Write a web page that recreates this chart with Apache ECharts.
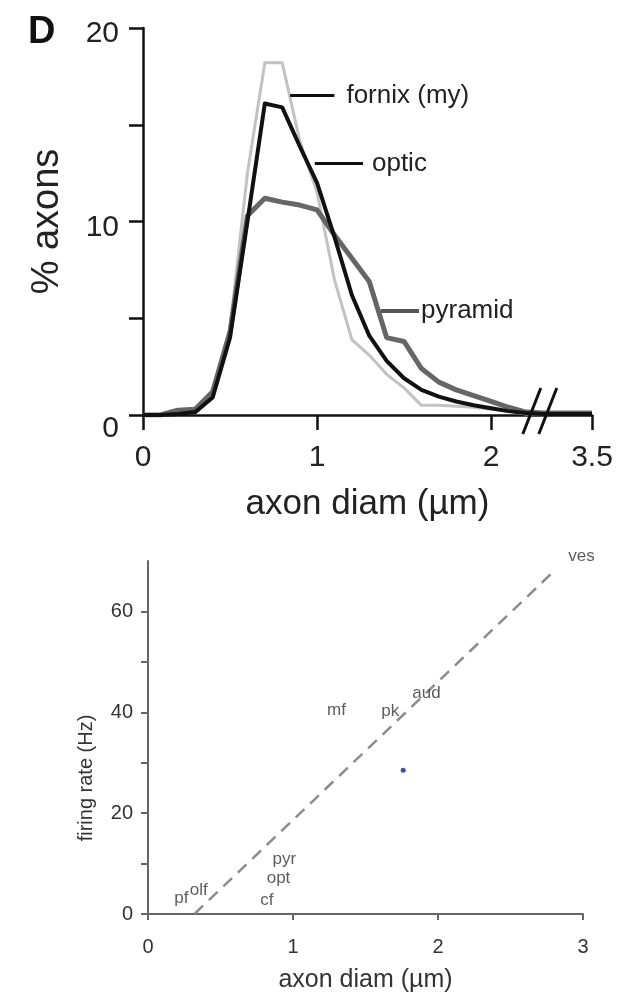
<!DOCTYPE html>
<html><head><meta charset="utf-8">
<script src="https://cdn.jsdelivr.net/npm/echarts@6/dist/echarts.min.js"></script>
<style>html,body{margin:0;padding:0;background:#fff}#c{width:628px;height:994px}</style>
</head><body><div id="c"></div>
<script>
// ---- Panel D (top): axon diameter distributions ----
const diamBins = [0,0.1,0.2,0.3,0.4,0.5,0.6,0.7,0.8,0.9,1.0,1.1,1.2,1.3,1.4,1.5,1.6,1.7,1.8,1.9,2.0,2.1,2.2,2.3,3.5];
const fornix   = [0,0,0.2,0.3,1.2,4.5,12.5,18.2,18.2,14.2,11.5,7.0,3.9,3.1,2.1,1.4,0.5,0.5,0.45,0.4,0.3,0.2,0.05,0.05,0.05];
const optic    = [0,0,0.05,0.15,0.9,4.0,10.0,16.1,15.9,13.9,12.0,9.2,6.2,4.1,2.8,1.9,1.3,0.95,0.7,0.5,0.35,0.2,0.1,0.05,0.05];
const pyramid  = [0,0,0.25,0.3,1.2,4.3,10.3,11.2,11.0,10.85,10.6,9.3,8.1,6.9,4.0,3.8,2.4,1.7,1.3,1.0,0.7,0.4,0.15,0.1,0.1];
const seriesNames = ['fornix (my)','optic','pyramid'];
const xTickValues = [0,1,2,3.5];
const xTickLabels = ['0','1','2','3.5'];
const yTickValues = [0,5,10,15,20];
const yLabelValues = [0,10,20];
// pointer lines for the curve names (data units)
const pointerFrom = [[0.845,16.5],[0.987,13.0],[1.367,5.4]];
const pointerTo   = [[1.10,16.5],[1.264,13.0],[1.586,5.4]];

// ---- bottom panel: firing rate vs axon diameter ----
const cellTypes = ['pf','olf','cf','opt','pyr','mf','pk','aud','ves'];
const cellDiam  = [0.23,0.35,0.82,0.90,0.94,1.30,1.67,1.92,2.99];
const cellRate  = [3.1,4.7,2.7,7.0,10.9,40.4,40.2,43.7,71];
const fitDiam = [0.32, 2.8];
const fitRate = [0, 68];
const dotDiam = [1.76];
const dotRate = [28.5];
const bxTicks = [0,1,2,3];
const byTicks = [0,10,20,30,40,50,60];
const byLabels = [0,20,40,60];

// broken x axis: beyond the break the scale is compressed
const AXIS_BREAK = 2.3, TAIL_COMPRESS = 0.2333;
const pos = x => x <= AXIS_BREAK ? x : AXIS_BREAK + (x - AXIS_BREAK) * TAIL_COMPRESS;

const FONT = 'Liberation Sans, Arial, sans-serif';
const chart = echarts.init(document.getElementById('c'));

const colors = ['#c2c2c2','#111111','#666666'];
const widths = [3,4,5];
const zs = [2,4,3];
const ptrColors = ['#111','#111','#555'];
const ptrWidths = [3,3,4];
const ptrDist = [12,9,2];
const curveData = [fornix, optic, pyramid];

const topSeries = curveData.map((vals, i) => ({
  name: seriesNames[i], type: 'line', xAxisIndex: 0, yAxisIndex: 0,
  data: diamBins.map((d, k) => [pos(d), vals[k]]),
  symbol: 'none', z: zs[i],
  lineStyle: {color: colors[i], width: widths[i], join: 'round'},
  markLine: {
    silent: true, symbol: ['none','none'], animation: false,
    lineStyle: {color: ptrColors[i], width: ptrWidths[i], type: 'solid'},
    label: {show: true, position: 'end', formatter: seriesNames[i], fontFamily: FONT,
            fontSize: 26, color: '#222', distance: ptrDist[i]},
    emphasis: {disabled: true},
    data: [[{coord: [pos(pointerFrom[i][0]), pointerFrom[i][1]]},
            {coord: [pos(pointerTo[i][0]), pointerTo[i][1]]}]]
  }
}));

const xTickPos = xTickValues.map(pos);
const xLabelFor = v => {
  const k = xTickPos.findIndex(p => Math.abs(p - v) < 1e-6);
  return k >= 0 ? xTickLabels[k] : '';
};

const labelText = {fontSize: 30, fontFamily: FONT, color: '#222'};

chart.setOption({
  animation: false,
  backgroundColor: '#fff',
  grid: [
    {left: 143, width: 449, top: 28, height: 387},
    {left: 148, width: 435, top: 561, height: 358}
  ],
  xAxis: [
    {type: 'value', gridIndex: 0, min: 0, max: pos(3.5),
     axisLine: {lineStyle: {color: '#111', width: 2.5}},
     axisTick: {customValues: xTickPos, length: 15, lineStyle: {color: '#111', width: 2.5}},
     axisLabel: {customValues: xTickPos, formatter: xLabelFor, fontSize: 30, fontFamily: FONT, color: '#222', margin: 28},
     splitLine: {show: false},
     name: 'axon diam (µm)', nameLocation: 'middle', nameGap: 72,
     nameTextStyle: {fontSize: 35, fontFamily: FONT, color: '#222'}},
    {type: 'value', gridIndex: 1, min: 0, max: 3,
     axisLine: {lineStyle: {color: '#666', width: 2}},
     axisTick: {customValues: bxTicks, length: 6, lineStyle: {color: '#666', width: 2}},
     axisLabel: {customValues: bxTicks, fontSize: 20, fontFamily: FONT, color: '#333', margin: 23},
     splitLine: {show: false},
     name: 'axon diam (µm)', nameLocation: 'middle', nameGap: 54,
     nameTextStyle: {fontSize: 25, fontFamily: FONT, color: '#333'}}
  ],
  yAxis: [
    {type: 'value', gridIndex: 0, min: 0, max: 20,
     axisLine: {show: true, lineStyle: {color: '#111', width: 2.5}},
     axisTick: {show: true, customValues: yTickValues, length: 14, lineStyle: {color: '#111', width: 2.5}},
     axisLabel: {customValues: yLabelValues, margin: 24,
       formatter: v => (v === 0 ? '{z|' : '{t|') + v + '}',
       rich: {t: Object.assign({padding: [12,0,0,0]}, labelText),
              z: Object.assign({padding: [28,0,0,0]}, labelText)}},
     splitLine: {show: false},
     name: '% axons', nameLocation: 'middle', nameGap: 76,
     nameTextStyle: {fontSize: 38, fontFamily: FONT, color: '#222'}},
    {type: 'value', gridIndex: 1, min: 0, max: 70,
     axisLine: {show: true, lineStyle: {color: '#666', width: 2}},
     axisTick: {show: true, customValues: byTicks, length: 7, lineStyle: {color: '#666', width: 2}},
     axisLabel: {customValues: byLabels, fontSize: 20, fontFamily: FONT, color: '#333', margin: 15},
     splitLine: {show: false}}
  ],
  series: topSeries.concat([
    {type: 'line', xAxisIndex: 1, yAxisIndex: 1, symbol: 'none',
     data: fitDiam.map((d, k) => [d, fitRate[k]]),
     lineStyle: {color: '#8c8c8c', width: 2.5, type: [12, 8]}, z: 2},
    {type: 'scatter', xAxisIndex: 1, yAxisIndex: 1, symbolSize: 1, clip: false,
     itemStyle: {color: 'rgba(0,0,0,0)'},
     data: cellTypes.map((n, k) => ({name: n, value: [cellDiam[k], cellRate[k]]})),
     label: {show: true, position: 'inside', formatter: '{b}', fontSize: 17, fontFamily: FONT, color: '#333'},
     emphasis: {disabled: true}, z: 5},
    {type: 'scatter', xAxisIndex: 1, yAxisIndex: 1, symbolSize: 5,
     itemStyle: {color: '#1c1ca0'},
     data: dotDiam.map((d, k) => [d, dotRate[k]]), z: 6}
  ])
});

// break marks on the top x axis, and free text
const c = chart.convertToPixel({xAxisIndex: 0, yAxisIndex: 0}, [AXIS_BREAK - 0.02, 0]);
const slash = dx => ({type: 'line', z: 10,
  shape: {x1: c[0] + dx + 9, y1: c[1] - 27, x2: c[0] + dx - 9, y2: c[1] + 19},
  style: {stroke: '#111', lineWidth: 3}});
chart.setOption({graphic: [
  {type: 'text', left: 28, top: 14, style: {text: 'D', font: 'bold 38px ' + FONT, fill: '#111'}},
  {type: 'text', x: 86, y: 778, rotation: Math.PI / 2,
   style: {text: 'firing rate (Hz)', font: '20px ' + FONT, fill: '#333', align: 'center', verticalAlign: 'middle'}},
  slash(-8), slash(8)
]});
</script></body></html>
